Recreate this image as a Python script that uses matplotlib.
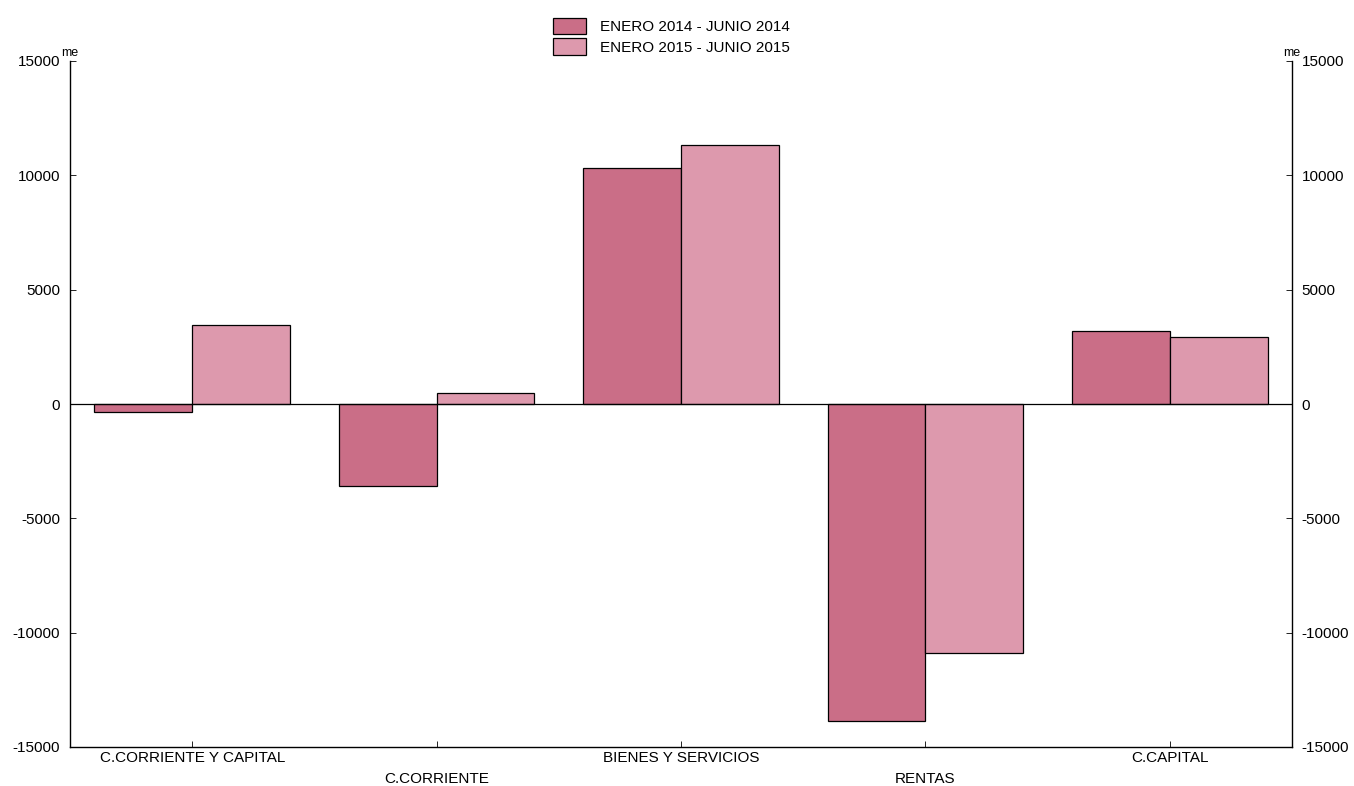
import matplotlib.pyplot as plt
import numpy as np

plt.rcParams['font.family'] = ['Liberation Sans', 'DejaVu Sans']

categories = ["C.CORRIENTE Y CAPITAL", "C.CORRIENTE", "BIENES Y SERVICIOS", "RENTAS", "C.CAPITAL"]
series_names = ["ENERO 2014 - JUNIO 2014", "ENERO 2015 - JUNIO 2015"]
vals_2014 = [-350, -3580, 10300, -13850, 3200]
vals_2015 = [3450, 480, 11330, -10880, 2950]
yticks = [-15000, -10000, -5000, 0, 5000, 10000, 15000]

col_2014 = "#CA6E87"
col_2015 = "#DD99AD"

fig = plt.figure(figsize=(13.54, 7.86), dpi=100)
ax = fig.add_axes([70/1354, 1-747/786, (1292-70)/1354, (747-61)/786])

x = np.arange(len(categories))
w = 0.4
ax.bar(x - w/2, vals_2014, w, color=col_2014, edgecolor="black", linewidth=0.9,
       label=series_names[0], zorder=2)
ax.bar(x + w/2, vals_2015, w, color=col_2015, edgecolor="black", linewidth=0.9,
       label=series_names[1], zorder=2)
ax.axhline(0, color="black", linewidth=0.9, zorder=3)

ax.set_xlim(-0.5, len(categories) - 0.5)
ax.set_ylim(-15000, 15000)
ax.set_yticks(yticks)
ax.set_yticklabels([str(t) for t in yticks])

# alternate category labels onto a second row
labels = [c if i % 2 == 0 else "\n" + c for i, c in enumerate(categories)]
ax.set_xticks(x)
ax.set_xticklabels(labels, fontsize=11, linespacing=1.6)

ax.spines["top"].set_visible(False)
for s in ["left", "right", "bottom"]:
    ax.spines[s].set_linewidth(1.0)

ax.tick_params(axis="x", direction="in", length=4, width=0.6, pad=3)
ax.tick_params(axis="y", direction="in", length=4, width=0.6, labelsize=11,
               left=True, right=True, labelleft=True, labelright=True, pad=7)

ax.text(0, 1.003, "me", transform=ax.transAxes, ha="center", va="bottom", fontsize=9)
ax.text(1, 1.003, "me", transform=ax.transAxes, ha="center", va="bottom", fontsize=9)

fig.legend(loc="upper left", bbox_to_anchor=(545/1354, 1-10/786), frameon=False,
           fontsize=11, handlelength=2.2, handleheight=1.3, labelspacing=0.25,
           handletextpad=0.9, borderpad=0)

fig.savefig("out.png", dpi=100)
